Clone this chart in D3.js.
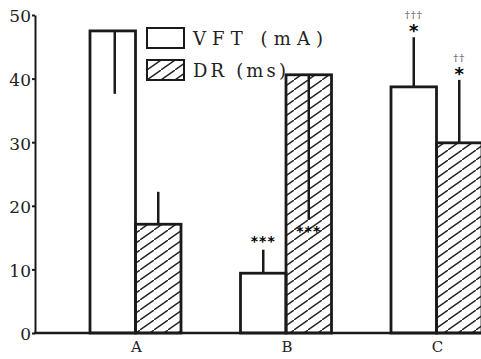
<!DOCTYPE html>
<html>
<head>
<meta charset="utf-8">
<script src="https://cdn.jsdelivr.net/npm/d3@7"></script>
<style>
  body { margin: 0; background: #fff; }
  svg { display: block; }
  .axis text { font-family: "DejaVu Serif", serif; fill: #222; }
</style>
</head>
<body>
<svg id="chart" width="481" height="359"></svg>
<script>
// data
var groups = ["A", "B", "C"];
var series = ["VFT (mA)", "DR (ms)"];
var vft = [47.5, 9.4, 38.7];
var dr = [17.1, 40.6, 29.9];
var vftErr = [9.9, 3.7, 7.8];
var drErr = [5.1, 22.8, 9.9];
var vftErrDir = ["down", "up", "up"];
var drErrDir = ["up", "down", "up"];
var vftMarks = ["", "***", "*"];
var drMarks = ["", "***", "*"];
var vftDaggers = ["", "", "\u2020\u2020\u2020"];
var drDaggers = ["", "", "\u2020\u2020"];
var yTicks = [0, 10, 20, 30, 40, 50];

var svg = d3.select("#chart");
var plotLeft = 35, plotTop = 15, plotBottom = 333, W = 481;

var y = d3.scaleLinear().domain([0, 50]).range([plotBottom, plotTop]);
var x = d3.scalePoint().domain(groups).range([136, 437]);
var sub = d3.scaleBand().domain(series).range([-46, 45]);

// hatch pattern
var defs = svg.append("defs");
var pat = defs.append("pattern")
    .attr("id", "hatch")
    .attr("patternUnits", "userSpaceOnUse")
    .attr("width", 14).attr("height", 10);
pat.append("path")
    .attr("d", "M-3,12 L17,-2")
    .attr("stroke", "#222").attr("stroke-width", 1.5);

var rows = [];
groups.forEach(function (g, i) {
    rows.push({ g: g, s: series[0], v: vft[i], e: vftErr[i], dir: vftErrDir[i], mark: vftMarks[i], dag: vftDaggers[i] });
    rows.push({ g: g, s: series[1], v: dr[i], e: drErr[i], dir: drErrDir[i], mark: drMarks[i], dag: drDaggers[i] });
});

// bars
svg.selectAll(".bar")
    .data(rows)
    .enter()
    .append("rect")
    .attr("class", "bar")
    .attr("x", function (d) { return x(d.g) + sub(d.s); })
    .attr("y", function (d) { return y(d.v); })
    .attr("width", sub.bandwidth())
    .attr("height", function (d) { return plotBottom - y(d.v); })
    .attr("fill", function (d) { return d.s === series[0] ? "#fff" : "url(#hatch)"; })
    .attr("stroke", "#1a1a1a")
    .attr("stroke-width", 2.8);

// error bars
function errEnd(d) { return d.dir === "up" ? d.v + d.e : d.v - d.e; }
function cx(d) { return x(d.g) + sub(d.s) + sub.bandwidth() / 2 + (d.s === series[0] && d.g === "A" ? 2 : 0); }

svg.selectAll(".err")
    .data(rows)
    .enter()
    .append("line")
    .attr("x1", cx).attr("x2", cx)
    .attr("y1", function (d) { return y(d.v); })
    .attr("y2", function (d) { return y(errEnd(d)); })
    .attr("stroke", "#1a1a1a")
    .attr("stroke-width", 2.5);

// significance marks
svg.selectAll(".mark")
    .data(rows.filter(function (d) { return d.mark; }))
    .enter()
    .append("text")
    .attr("x", cx)
    .attr("y", function (d) { return d.dir === "up" ? y(errEnd(d)) - (d.mark.length > 1 ? 4 : 0) : y(errEnd(d)) + 16; })
    .attr("text-anchor", "middle")
    .attr("font-family", "DejaVu Sans, sans-serif")
    .attr("font-weight", "bold")
    .attr("font-size", function (d) { return d.mark.length > 1 ? 14 : 18; })
    .attr("letter-spacing", function (d) { return d.mark.length > 1 ? 1 : 0; })
    .attr("fill", "#000")
    .text(function (d) { return d.mark; });

svg.selectAll(".dag")
    .data(rows.filter(function (d) { return d.dag; }))
    .enter()
    .append("text")
    .attr("x", cx)
    .attr("y", function (d) { return y(errEnd(d)) - 19; })
    .attr("text-anchor", "middle")
    .attr("font-family", "DejaVu Serif, serif")
    .attr("font-size", 10)
    .attr("letter-spacing", 1)
    .attr("fill", "#555")
    .text(function (d) { return d.dag; });

// axes
var yAxis = svg.append("g")
    .attr("class", "axis")
    .attr("transform", "translate(" + plotLeft + ",0)")
    .call(d3.axisLeft(y).tickValues(yTicks).tickSize(3).tickSizeOuter(0).tickPadding(1));
yAxis.select(".domain").attr("stroke", "#1a1a1a").attr("stroke-width", 2);
yAxis.selectAll(".tick line").attr("stroke", "#1a1a1a").attr("stroke-width", 2);
yAxis.selectAll("text").attr("font-size", 17).attr("dy", "0.4em");

svg.append("line")
    .attr("x1", plotLeft - 1).attr("x2", W)
    .attr("y1", plotBottom).attr("y2", plotBottom)
    .attr("stroke", "#1a1a1a").attr("stroke-width", 2.5);

var xAxis = svg.append("g")
    .attr("class", "axis")
    .attr("transform", "translate(0," + plotBottom + ")")
    .call(d3.axisBottom(x).tickSize(0).tickPadding(8));
xAxis.select(".domain").remove();
xAxis.selectAll("text").attr("font-size", 15).attr("dy", "0.75em");

// legend
var legendTextLen = [130, 93];
var legend = svg.append("g").attr("transform", "translate(147,28)");
series.forEach(function (s, i) {
    var row = legend.append("g").attr("transform", "translate(0," + (i * 32) + ")");
    row.append("rect")
        .attr("width", 37).attr("height", 20)
        .attr("fill", i === 0 ? "#fff" : "url(#hatch)")
        .attr("stroke", "#1a1a1a").attr("stroke-width", 2);
    row.append("text")
        .attr("x", 46).attr("y", 17)
        .attr("font-family", "DejaVu Serif, serif")
        .attr("font-size", 18)
        .attr("textLength", legendTextLen[i])
        .attr("lengthAdjust", "spacing")
        .attr("fill", "#222")
        .text(s);
});
</script>
</body>
</html>
